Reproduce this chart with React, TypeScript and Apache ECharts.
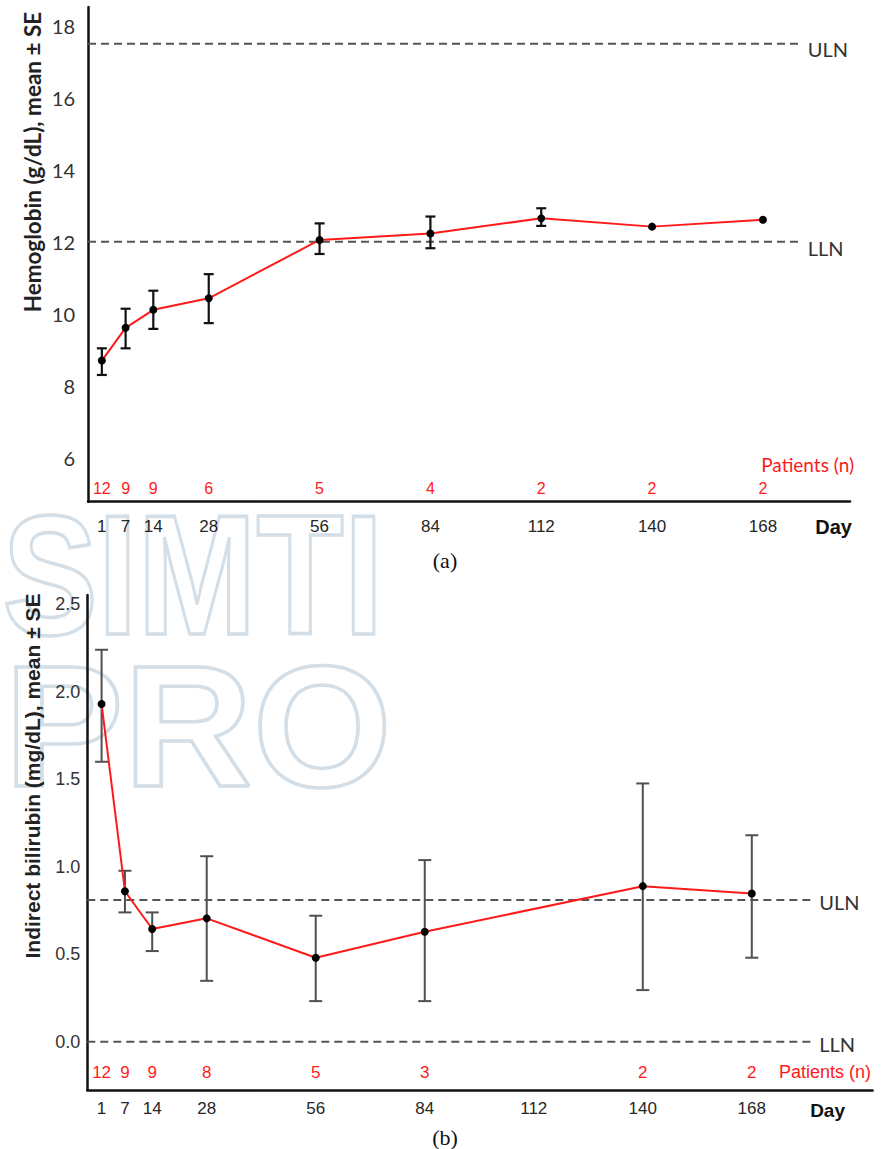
import React, { useEffect, useRef } from "react";
import * as echarts from "echarts";

// ---------- Data: (a) Hemoglobin ----------
const hbDays = [1, 7, 14, 28, 56, 84, 112, 140, 168];
const hbMean = [8.7, 9.61, 10.11, 10.43, 12.05, 12.23, 12.65, 12.42, 12.61];
const hbUpper = [9.04, 10.14, 10.64, 11.1, 12.51, 12.7, 12.93, null, null];
const hbLower = [8.3, 9.04, 9.58, 9.74, 11.66, 11.82, 12.44, null, null];
const hbPatients = [12, 9, 9, 6, 5, 4, 2, 2, 2];
const hbULN = 17.5;
const hbLLN = 12;
const hbYTicks = [6, 8, 10, 12, 14, 16, 18];

// ---------- Data: (b) Indirect bilirubin ----------
const biDays = [1, 7, 14, 28, 56, 84, 140, 168];
const biMean = [1.93, 0.86, 0.644, 0.705, 0.48, 0.628, 0.889, 0.847];
const biUpper = [2.24, 0.977, 0.739, 1.06, 0.72, 1.038, 1.476, 1.18];
const biLower = [1.6, 0.739, 0.518, 0.348, 0.232, 0.232, 0.295, 0.48];
const biPatients = [12, 9, 9, 8, 5, 3, 2, 2];
const biULN = 0.81;
const biLLN = 0;
const biYTicks = [0, 0.5, 1.0, 1.5, 2.0, 2.5];

const dayTicks = [1, 7, 14, 28, 56, 84, 112, 140, 168];

const RED = "#ff1a1a";
const TXT = "#262626";

function errorBarRenderer(color: string, cap: number, width: number) {
  return (params: any, api: any) => {
    const x = api.value(0);
    const hi = api.value(1);
    const lo = api.value(2);
    const pHi = api.coord([x, hi]);
    const pLo = api.coord([x, lo]);
    const w = cap / 2;
    const style = { stroke: color, lineWidth: width };
    return {
      type: "group",
      children: [
        { type: "line", shape: { x1: pHi[0], y1: pHi[1], x2: pLo[0], y2: pLo[1] }, style },
        { type: "line", shape: { x1: pHi[0] - w, y1: pHi[1], x2: pHi[0] + w, y2: pHi[1] }, style },
        { type: "line", shape: { x1: pLo[0] - w, y1: pLo[1], x2: pLo[0] + w, y2: pLo[1] }, style },
      ],
    };
  };
}

export default function App() {
  const ref = useRef<HTMLDivElement>(null);

  useEffect(() => {
    document.body.style.margin = "0";
    document.body.style.overflow = "hidden";
    if (!ref.current) return;
    const chart = echarts.init(ref.current, null, { renderer: "svg" });

    const hbX = { min: -2.5, max: 190 };
    const biX = { min: -2.67, max: 199 };
    const hbEnd = 177.8;
    const biEnd = 183.8;

    const mainX = (gridIndex: number, range: any, margin: number, fontSize: number) => ({
      type: "value",
      gridIndex,
      position: "bottom",
      min: range.min,
      max: range.max,
      axisLine: { show: true, onZero: false, lineStyle: { color: "#111", width: 2.5 } },
      axisTick: { show: false },
      splitLine: { show: false },
      axisLabel: {
        customValues: dayTicks,
        color: TXT,
        fontSize,
        fontFamily: "Liberation Sans",
        margin,
        showMinLabel: true,
        showMaxLabel: true,
      },
    });

    const countX = (gridIndex: number, range: any, days: number[], counts: number[], fontSize: number, margin: number) => ({
      type: "value",
      gridIndex,
      position: "bottom",
      min: range.min,
      max: range.max,
      axisLine: { show: false },
      axisTick: { show: false },
      splitLine: { show: false },
      axisLabel: {
        inside: true,
        customValues: days,
        formatter: (v: number) => {
          const i = days.indexOf(v);
          return i >= 0 ? String(counts[i]) : "";
        },
        color: RED,
        fontSize,
        fontFamily: "Liberation Sans",
        margin,
        showMinLabel: true,
        showMaxLabel: true,
      },
    });

    const refLine = (xi: number, yi: number, range: any, end: number, v: number, name: string, dy: number, fontSize: number) => ({
      type: "line",
      xAxisIndex: xi,
      yAxisIndex: yi,
      data: [
        [range.min, v],
        [end, v],
      ],
      symbol: "none",
      silent: true,
      z: 2,
      lineStyle: { color: "#555", width: 2, type: [8, 5] },
      endLabel: {
        show: true,
        formatter: name,
        color: "#333",
        fontSize,
        fontFamily: "Lato",
        distance: 6,
        offset: [0, dy],
      },
    });

    const option: any = {
      animation: false,
      backgroundColor: "#fff",
      grid: [
        { left: 88, top: 7, width: 762, height: 494.7 },
        { left: 87.3, top: 595, width: 785.2, height: 495 },
      ],
      xAxis: [
        mainX(0, hbX, 16, 17),
        countX(0, hbX, hbDays, hbPatients, 16, 5),
        mainX(1, biX, 10, 17),
        countX(1, biX, biDays, biPatients, 17, 9),
      ],
      yAxis: [
        {
          type: "value",
          gridIndex: 0,
          min: 4.78,
          max: 18.52,
          axisLine: { show: true, onZero: false, lineStyle: { color: "#111", width: 2.5 } },
          axisTick: { show: false },
          splitLine: { show: false },
          axisLabel: {
            customValues: hbYTicks,
            color: "#333",
            fontSize: 20,
            fontFamily: "Lato",
            margin: 13,
          },
        },
        {
          type: "value",
          gridIndex: 1,
          min: -0.276,
          max: 2.553,
          axisLine: { show: true, onZero: false, lineStyle: { color: "#111", width: 2.5 } },
          axisTick: { show: false },
          splitLine: { show: false },
          axisLabel: {
            customValues: biYTicks,
            formatter: (v: number) => v.toFixed(1),
            color: "#333",
            fontSize: 18,
            fontFamily: "Liberation Sans",
            margin: 7,
          },
        },
      ],
      graphic: [
        {
          type: "text",
          x: 193,
          y: 575,
          scaleX: 0.84,
          z: -10,
          silent: true,
          style: {
            text: "SIMTI",
            font: 'bold 170px "Liberation Sans"',
            textAlign: "center",
            textVerticalAlign: "middle",
            fill: "rgba(0,0,0,0)",
            stroke: "#d3dee6",
            lineWidth: 3.5,
          },
        },
        {
          type: "text",
          x: 198,
          y: 726,
          scaleX: 1.04,
          z: -10,
          silent: true,
          style: {
            text: "PRO",
            font: 'bold 172px "Liberation Sans"',
            textAlign: "center",
            textVerticalAlign: "middle",
            fill: "rgba(0,0,0,0)",
            stroke: "#d3dee6",
            lineWidth: 3.5,
          },
        },
        {
          type: "text",
          x: 32,
          y: 162,
          rotation: Math.PI / 2,
          style: {
            text: "Hemoglobin (g/dL), mean ± SE",
            font: 'bold 22.5px "Lato"',
            textAlign: "center",
            textVerticalAlign: "middle",
            fill: "#222",
          },
        },
        {
          type: "text",
          x: 32,
          y: 776,
          rotation: Math.PI / 2,
          style: {
            text: "Indirect bilirubin (mg/dL), mean ± SE",
            font: 'bold 21px "Liberation Sans"',
            textAlign: "center",
            textVerticalAlign: "middle",
            fill: "#222",
          },
        },
        {
          type: "text",
          x: 854,
          y: 464,
          style: {
            text: "Patients (n)",
            font: '19px "Lato"',
            textAlign: "right",
            textVerticalAlign: "middle",
            fill: RED,
          },
        },
        {
          type: "text",
          x: 871,
          y: 1072,
          style: {
            text: "Patients (n)",
            font: '18px "Liberation Sans"',
            textAlign: "right",
            textVerticalAlign: "middle",
            fill: RED,
          },
        },
        {
          type: "text",
          x: 852,
          y: 527,
          style: {
            text: "Day",
            font: 'bold 20px "Liberation Sans"',
            textAlign: "right",
            textVerticalAlign: "middle",
            fill: "#111",
          },
        },
        {
          type: "text",
          x: 845,
          y: 1110,
          style: {
            text: "Day",
            font: 'bold 19px "Liberation Sans"',
            textAlign: "right",
            textVerticalAlign: "middle",
            fill: "#111",
          },
        },
        {
          type: "text",
          x: 445,
          y: 560,
          style: {
            text: "(a)",
            font: '22px "Liberation Serif"',
            textAlign: "center",
            textVerticalAlign: "middle",
            fill: "#111",
          },
        },
        {
          type: "text",
          x: 445,
          y: 1137,
          style: {
            text: "(b)",
            font: '22px "Liberation Serif"',
            textAlign: "center",
            textVerticalAlign: "middle",
            fill: "#111",
          },
        },
      ],
      series: [
        refLine(0, 0, hbX, hbEnd, hbULN, "ULN", 5, 20),
        refLine(0, 0, hbX, hbEnd, hbLLN, "LLN", 6, 20),
        refLine(2, 1, biX, biEnd, biULN, "ULN", 2, 20),
        refLine(2, 1, biX, biEnd, biLLN, "LLN", 2, 20),
        {
          type: "custom",
          xAxisIndex: 0,
          yAxisIndex: 0,
          z: 3,
          renderItem: errorBarRenderer("#111", 10, 2.2),
          encode: { x: 0, y: [1, 2] },
          data: hbDays
            .map((d, i) => [d, hbUpper[i], hbLower[i]])
            .filter((r) => r[1] != null && r[2] != null),
        },
        {
          type: "custom",
          xAxisIndex: 2,
          yAxisIndex: 1,
          z: 3,
          renderItem: errorBarRenderer("#505050", 13, 2),
          encode: { x: 0, y: [1, 2] },
          data: biDays.map((d, i) => [d, biUpper[i], biLower[i]]),
        },
        {
          type: "line",
          xAxisIndex: 0,
          yAxisIndex: 0,
          z: 4,
          data: hbDays.map((d, i) => [d, hbMean[i]]),
          symbol: "circle",
          symbolSize: 8,
          itemStyle: { color: "#000" },
          lineStyle: { color: RED, width: 2 },
        },
        {
          type: "line",
          xAxisIndex: 2,
          yAxisIndex: 1,
          z: 4,
          data: biDays.map((d, i) => [d, biMean[i]]),
          symbol: "circle",
          symbolSize: 8,
          itemStyle: { color: "#000" },
          lineStyle: { color: RED, width: 2 },
        },
      ],
    };

    chart.setOption(option);
    return () => chart.dispose();
  }, []);

  return (
    <div
      ref={ref}
      style={{ position: "absolute", left: 0, top: 0, width: 883, height: 1149, background: "#fff" }}
    />
  );
}
